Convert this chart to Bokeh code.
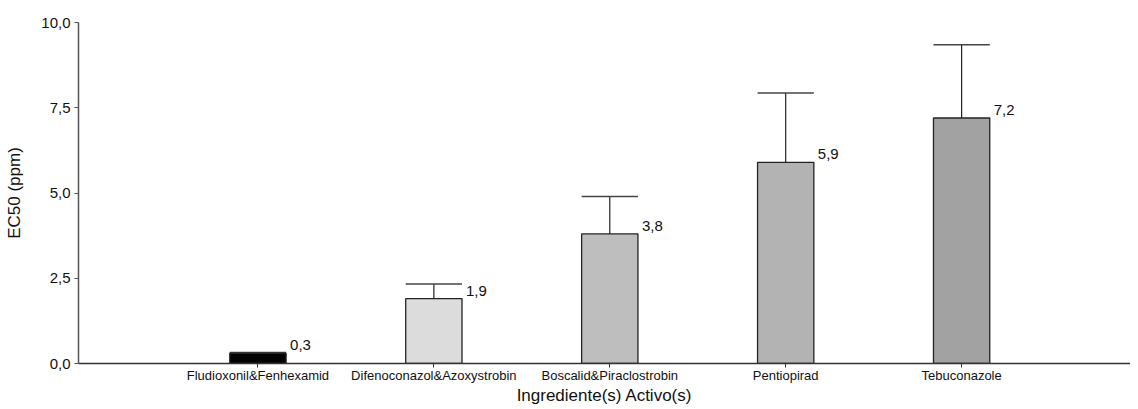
from bokeh.plotting import figure
from bokeh.models import Range1d, FixedTicker
from bokeh.embed import file_html
from bokeh.resources import INLINE
from bokeh.core.properties import value

categories = ["Fludioxonil&Fenhexamid", "Difenoconazol&Azoxystrobin",
              "Boscalid&Piraclostrobin", "Pentiopirad", "Tebuconazole"]
ec50 = [0.3, 1.9, 3.8, 5.9, 7.2]
upper = [0.32, 2.33, 4.9, 7.93, 9.35]
labels = ["0,3", "1,9", "3,8", "5,9", "7,2"]
colors = ["#000000", "#dcdcdc", "#bebebe", "#b3b3b3", "#a2a2a2"]
y_ticks = [0, 2.5, 5, 7.5, 10]
y_tick_labels = ["0,0", "2,5", "5,0", "7,5", "10,0"]

FONT = "Liberation Sans"
W = 0.32
xs = list(range(len(categories)))

p = figure(width=1130, height=407, output_backend="svg", toolbar_location=None,
           x_range=Range1d(-1.02, 4.96), y_range=Range1d(0, 10),
           min_border_left=78, min_border_right=0, min_border_top=22,
           min_border_bottom=40)
p.outline_line_color = None
p.xgrid.visible = False
p.ygrid.visible = False

# error bars (upper only)
p.segment(x0=xs, y0=ec50, x1=xs, y1=upper, line_color="#222222", line_width=1.2)
p.segment(x0=[x - W / 2 for x in xs], y0=upper, x1=[x + W / 2 for x in xs], y1=upper,
          line_color="#444444", line_width=1.5)

p.vbar(x=xs, top=ec50, width=W, fill_color=colors, line_color="#222222", line_width=1.3)

p.text(x=[x + W / 2 for x in xs], y=ec50, text=labels, x_offset=4, y_offset=-3,
       text_font=value(FONT), text_font_size="15px", text_baseline="bottom",
       text_color="#111111")

p.xaxis.ticker = FixedTicker(ticks=xs)
p.xaxis.major_label_overrides = {i: c for i, c in enumerate(categories)}
p.xaxis.minor_tick_line_color = None
p.xaxis.major_tick_in = 0
p.xaxis.major_tick_out = 4
p.xaxis.axis_line_color = "#333333"
p.xaxis.axis_line_width = 1.5
p.xaxis.major_tick_line_color = "#333333"
p.xaxis.major_label_text_font = FONT
p.xaxis.major_label_text_font_size = "13px"
p.xaxis.major_label_text_color = "#111111"
p.xaxis.major_label_standoff = 0
p.xaxis.axis_label = "Ingrediente(s) Activo(s)"
p.xaxis.axis_label_text_font = FONT
p.xaxis.axis_label_text_font_size = "17px"
p.xaxis.axis_label_text_font_style = "normal"
p.xaxis.axis_label_text_color = "#111111"
p.xaxis.axis_label_standoff = 0

p.yaxis.ticker = FixedTicker(ticks=y_ticks)
p.yaxis.major_label_overrides = dict(zip(y_ticks, y_tick_labels))
p.yaxis.minor_tick_line_color = None
p.yaxis.major_tick_in = 0
p.yaxis.major_tick_out = 4
p.yaxis.axis_line_color = "#555555"
p.yaxis.axis_line_width = 1.5
p.yaxis.major_tick_line_color = "#555555"
p.yaxis.major_label_text_font = FONT
p.yaxis.major_label_text_font_size = "15px"
p.yaxis.major_label_text_color = "#111111"
p.yaxis.major_label_standoff = 4
p.yaxis.axis_label = "EC50 (ppm)"
p.yaxis.axis_label_text_font = FONT
p.yaxis.axis_label_text_font_size = "17px"
p.yaxis.axis_label_text_font_style = "normal"
p.yaxis.axis_label_text_color = "#111111"
p.yaxis.axis_label_standoff = 14

open("out.html", "w").write(file_html(p, INLINE))
